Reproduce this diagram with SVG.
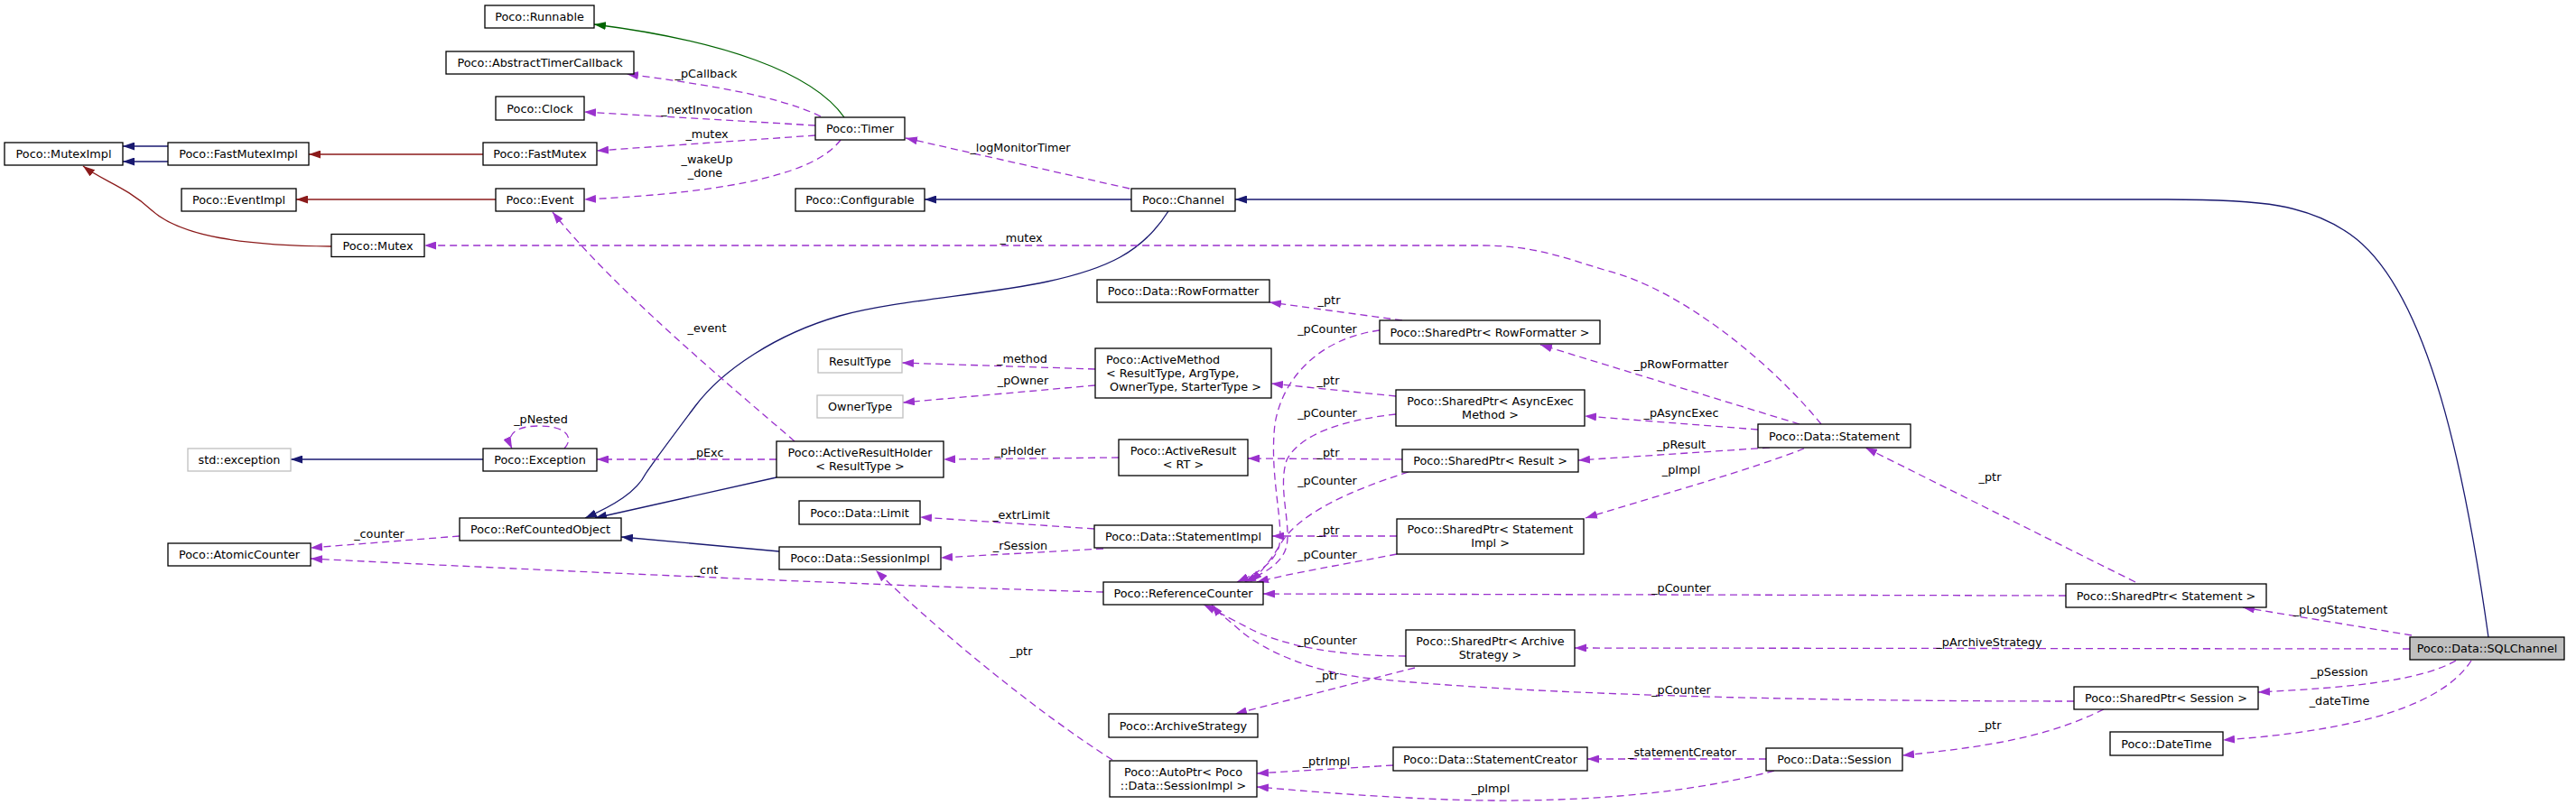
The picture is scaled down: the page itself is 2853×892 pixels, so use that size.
<svg xmlns="http://www.w3.org/2000/svg" width="2853" height="892" viewBox="0 0 2853 892">
<style>
text{font-family:'DejaVu Sans','Liberation Sans',sans-serif;font-size:12.8px;fill:#000;text-anchor:middle}
.n rect{fill:#fff;stroke:#000;stroke-width:1.3}
.g rect{fill:#fff;stroke:#bfbfbf;stroke-width:1.3}
.sel rect{fill:#bfbfbf;stroke:#000;stroke-width:1.3}
.l{text-anchor:start}
.e{fill:none;stroke-width:1.3}
.u{stroke:#9a32cd;stroke-dasharray:8,5;marker-end:url(#ap)}
.nv{stroke:#191970;marker-end:url(#an)}
.fr{stroke:#8b1a1a;marker-end:url(#af)}
.gr{stroke:#006400;marker-end:url(#ag)}
</style>
<defs>
<marker id="ap" markerUnits="userSpaceOnUse" markerWidth="13" markerHeight="9" refX="13" refY="4.5" orient="auto"><path d="M0,0 L13,4.5 L0,9 z" fill="#9a32cd"/></marker>
<marker id="an" markerUnits="userSpaceOnUse" markerWidth="13" markerHeight="9" refX="13" refY="4.5" orient="auto"><path d="M0,0 L13,4.5 L0,9 z" fill="#191970"/></marker>
<marker id="af" markerUnits="userSpaceOnUse" markerWidth="13" markerHeight="9" refX="13" refY="4.5" orient="auto"><path d="M0,0 L13,4.5 L0,9 z" fill="#8b1a1a"/></marker>
<marker id="ag" markerUnits="userSpaceOnUse" markerWidth="13" markerHeight="9" refX="13" refY="4.5" orient="auto"><path d="M0,0 L13,4.5 L0,9 z" fill="#006400"/></marker>
</defs>
<rect width="2853" height="892" fill="#fff"/>
<g id="connectors">
<path class="e gr" d="M935,130 C900,80 800,45 658,27"/>
<path class="e fr" d="M535,171 L342,171"/>
<path class="e nv" d="M186,162 L136,162"/>
<path class="e nv" d="M186,179 L136,179"/>
<path class="e fr" d="M549,221 L328,221"/>
<path class="e fr" d="M367,273 C270,272 200,262 168,233 C140,207 113,200 92,184"/>
<path class="e nv" d="M1253,221 L1024,221"/>
<path class="e nv" d="M2756,706 C2730,520 2690,330 2610,265 C2560,225 2500,221 2400,221 L1368,221"/>
<path class="e nv" d="M1294,234 C1265,280 1225,298 1160,312 C1090,327 990,333 930,350 C860,370 800,410 770,450 C740,490 725,510 715,525 C705,545 680,560 648,574"/>
<path class="e nv" d="M860,529 L659,574"/>
<path class="e nv" d="M863,611 L688,595"/>
<path class="e nv" d="M535,509 L322,509"/>
<path class="e u" d="M909,129 C860,105 770,92 694,82"/>
<path class="e u" d="M903,139 L647,124"/>
<path class="e u" d="M903,150 L661,167"/>
<path class="e u" d="M931,155 C905,190 820,213 647,221"/>
<path class="e u" d="M1251,209 L1003,153"/>
<path class="e u" d="M2017,470 C1960,400 1860,320 1780,300 C1730,285 1700,272 1640,272 L470,272"/>
<path class="e u" d="M880,489 C800,420 680,320 612,235"/>
<path class="e u" d="M625,497 C636,485 628,472 597,472 C570,472 560,482 567,497"/>
<path class="e u" d="M860,509 L661,509"/>
<path class="e u" d="M509,594 L344,607"/>
<path class="e u" d="M1222,656 C1000,650 600,632 344,619"/>
<path class="e u" d="M1553,355 L1406,335"/>
<path class="e u" d="M1213,409 L999,402"/>
<path class="e u" d="M1213,427 L1000,446"/>
<path class="e u" d="M1546,439 L1408,425"/>
<path class="e u" d="M1553,509 L1382,508"/>
<path class="e u" d="M1239,507 L1045,509"/>
<path class="e u" d="M1212,586 L1019,573"/>
<path class="e u" d="M1547,594 L1409,594"/>
<path class="e u" d="M1222,608 L1042,618"/>
<path class="e u" d="M1232,842 C1150,790 1040,700 970,632"/>
<path class="e u" d="M2365,645 L2066,496"/>
<path class="e u" d="M2671,704 L2484,673"/>
<path class="e u" d="M2669,719 L1744,718"/>
<path class="e u" d="M2720,732 C2680,755 2600,762 2501,767"/>
<path class="e u" d="M2737,732 C2700,790 2580,812 2462,820"/>
<path class="e u" d="M2330,786 C2280,810 2230,825 2107,837"/>
<path class="e u" d="M1956,841 L1758,841"/>
<path class="e u" d="M1965,854 C1850,885 1700,892 1560,884 C1480,880 1430,875 1392,872"/>
<path class="e u" d="M1543,848 L1392,857"/>
<path class="e u" d="M1567,740 L1368,791"/>
<path class="e u" d="M1993,470 L1706,382"/>
<path class="e u" d="M1947,476 L1755,461"/>
<path class="e u" d="M1960,496 L1748,510"/>
<path class="e u" d="M1998,497 C1940,520 1850,545 1756,574"/>
<path class="e u" d="M1528,366 C1460,375 1420,420 1412,470 C1405,530 1425,590 1415,610 C1405,630 1385,638 1370,645"/>
<path class="e u" d="M1546,459 C1490,465 1440,480 1425,510 C1415,540 1430,580 1425,605 C1420,625 1400,635 1378,645"/>
<path class="e u" d="M1560,523 C1490,545 1440,570 1420,600 C1405,625 1395,635 1385,645"/>
<path class="e u" d="M1547,614 C1490,625 1430,635 1392,645"/>
<path class="e u" d="M2288,660 L1399,658"/>
<path class="e u" d="M1557,727 C1480,727 1420,715 1385,697 C1360,684 1345,676 1333,670"/>
<path class="e u" d="M2297,777 C2000,777 1700,770 1520,752 C1450,745 1400,720 1375,700 C1362,688 1350,680 1342,670"/>
<text x="782" y="85.5">_pCallback</text>
<text x="783" y="125.5">_nextInvocation</text>
<text x="783" y="152.5">_mutex</text>
<text x="783" y="180.5">_wakeUp</text>
<text x="781" y="195.5">_done</text>
<text x="1130" y="167.5">_logMonitorTimer</text>
<text x="1131" y="267.5">_mutex</text>
<text x="783" y="367.5">_event</text>
<text x="599" y="468.5">_pNested</text>
<text x="783" y="505.5">_pExc</text>
<text x="420" y="595.5">_counter</text>
<text x="782" y="635.5">_cnt</text>
<text x="1132" y="401.5">_method</text>
<text x="1133" y="425.5">_pOwner</text>
<text x="1130" y="503.5">_pHolder</text>
<text x="1131" y="574.5">_extrLimit</text>
<text x="1130" y="608.5">_rSession</text>
<text x="1131" y="725.5">_ptr</text>
<text x="1472" y="336.5">_ptr</text>
<text x="1470" y="368.5">_pCounter</text>
<text x="1471" y="425.5">_ptr</text>
<text x="1470" y="461.5">_pCounter</text>
<text x="1471" y="505.5">_ptr</text>
<text x="1470" y="536.5">_pCounter</text>
<text x="1471" y="591.5">_ptr</text>
<text x="1470" y="618.5">_pCounter</text>
<text x="1470" y="713.5">_pCounter</text>
<text x="1470" y="752.5">_ptr</text>
<text x="1469" y="847.5">_ptrImpl</text>
<text x="1651" y="877.5">_pImpl</text>
<text x="1862" y="407.5">_pRowFormatter</text>
<text x="1862" y="461.5">_pAsyncExec</text>
<text x="1862" y="496.5">_pResult</text>
<text x="1862" y="524.5">_pImpl</text>
<text x="1862" y="655.5">_pCounter</text>
<text x="1862" y="768.5">_pCounter</text>
<text x="1863" y="837.5">_statementCreator</text>
<text x="2204" y="532.5">_ptr</text>
<text x="2203" y="715.5">_pArchiveStrategy</text>
<text x="2204" y="807.5">_ptr</text>
<text x="2592" y="679.5">_pLogStatement</text>
<text x="2591" y="748.5">_pSession</text>
<text x="2591" y="780.5">_dateTime</text>
</g>
<g id="n1" class="n"><rect x="537" y="6" width="121" height="25"/><text x="597.5" y="23">Poco::Runnable</text></g>
<g id="n2" class="n"><rect x="494" y="57" width="208" height="25"/><text x="598" y="74">Poco::AbstractTimerCallback</text></g>
<g id="n3" class="n"><rect x="549" y="107" width="98" height="26"/><text x="598" y="124.5">Poco::Clock</text></g>
<g id="n4" class="n"><rect x="903" y="130" width="99" height="25"/><text x="952.5" y="147">Poco::Timer</text></g>
<g id="n5" class="n"><rect x="5" y="158" width="131" height="25"/><text x="70.5" y="175">Poco::MutexImpl</text></g>
<g id="n6" class="n"><rect x="186" y="158" width="156" height="25"/><text x="264" y="175">Poco::FastMutexImpl</text></g>
<g id="n7" class="n"><rect x="535" y="158" width="126" height="25"/><text x="598" y="175">Poco::FastMutex</text></g>
<g id="n8" class="n"><rect x="201" y="209" width="127" height="25"/><text x="264.5" y="226">Poco::EventImpl</text></g>
<g id="n9" class="n"><rect x="549" y="209" width="98" height="25"/><text x="598" y="226">Poco::Event</text></g>
<g id="n10" class="n"><rect x="881" y="209" width="143" height="25"/><text x="952.5" y="226">Poco::Configurable</text></g>
<g id="n11" class="n"><rect x="1253" y="209" width="115" height="25"/><text x="1310.5" y="226">Poco::Channel</text></g>
<g id="n12" class="n"><rect x="367" y="259.5" width="103" height="25"/><text x="418.5" y="276.5">Poco::Mutex</text></g>
<g id="n13" class="n"><rect x="1215" y="310" width="191" height="25"/><text x="1310.5" y="327">Poco::Data::RowFormatter</text></g>
<g id="n14" class="n"><rect x="1528" y="355" width="244" height="26"/><text x="1650" y="372.5">Poco::SharedPtr&lt; RowFormatter &gt;</text></g>
<g id="n15" class="g"><rect x="906" y="387" width="93" height="26"/><text x="952.5" y="404.5">ResultType</text></g>
<g id="n16" class="n"><rect x="1213" y="386" width="195" height="55"/><text class="l" x="1225" y="402.5">Poco::ActiveMethod</text><text class="l" x="1225" y="417.5">&lt; ResultType, ArgType,</text><text class="l" x="1229" y="432.5">OwnerType, StarterType &gt;</text></g>
<g id="n17" class="g"><rect x="905" y="438" width="95" height="25"/><text x="952.5" y="455">OwnerType</text></g>
<g id="n18" class="n"><rect x="1546" y="432" width="209" height="40"/><text x="1650.5" y="448.5">Poco::SharedPtr&lt; AsyncExec</text><text x="1650.5" y="463.5">Method &gt;</text></g>
<g id="n19" class="n"><rect x="1947" y="470" width="169" height="26"/><text x="2031.5" y="487.5">Poco::Data::Statement</text></g>
<g id="n20" class="g"><rect x="208" y="497" width="114" height="25"/><text x="265" y="514">std::exception</text></g>
<g id="n21" class="n"><rect x="535" y="497" width="126" height="25"/><text x="598" y="514">Poco::Exception</text></g>
<g id="n22" class="n"><rect x="860" y="489" width="185" height="40"/><text x="952.5" y="505.5">Poco::ActiveResultHolder</text><text x="952.5" y="520.5">&lt; ResultType &gt;</text></g>
<g id="n23" class="n"><rect x="1239" y="487" width="143" height="40"/><text x="1310.5" y="503.5">Poco::ActiveResult</text><text x="1310.5" y="518.5">&lt; RT &gt;</text></g>
<g id="n24" class="n"><rect x="1553" y="498" width="195" height="25"/><text x="1650.5" y="515">Poco::SharedPtr&lt; Result &gt;</text></g>
<g id="n25" class="n"><rect x="885" y="555" width="134" height="26"/><text x="952" y="572.5">Poco::Data::Limit</text></g>
<g id="n26" class="n"><rect x="509" y="574" width="179" height="25"/><text x="598.5" y="591">Poco::RefCountedObject</text></g>
<g id="n27" class="n"><rect x="1212" y="582" width="197" height="25"/><text x="1310.5" y="599">Poco::Data::StatementImpl</text></g>
<g id="n28" class="n"><rect x="1547" y="575" width="207" height="39"/><text x="1650.5" y="591">Poco::SharedPtr&lt; Statement</text><text x="1650.5" y="606">Impl &gt;</text></g>
<g id="n29" class="n"><rect x="186" y="602" width="158" height="25"/><text x="265" y="619">Poco::AtomicCounter</text></g>
<g id="n30" class="n"><rect x="863" y="606" width="179" height="25"/><text x="952.5" y="623">Poco::Data::SessionImpl</text></g>
<g id="n31" class="n"><rect x="1222" y="645" width="177" height="25"/><text x="1310.5" y="662">Poco::ReferenceCounter</text></g>
<g id="n32" class="n"><rect x="2288" y="647" width="222" height="26"/><text x="2399" y="664.5">Poco::SharedPtr&lt; Statement &gt;</text></g>
<g id="n33" class="n"><rect x="1557" y="698" width="187" height="40"/><text x="1650.5" y="714.5">Poco::SharedPtr&lt; Archive</text><text x="1650.5" y="729.5">Strategy &gt;</text></g>
<g id="n34" class="sel"><rect x="2669" y="706" width="171" height="25"/><text x="2754.5" y="723">Poco::Data::SQLChannel</text></g>
<g id="n35" class="n"><rect x="2297" y="761" width="204" height="25"/><text x="2399" y="778">Poco::SharedPtr&lt; Session &gt;</text></g>
<g id="n36" class="n"><rect x="1228" y="791" width="165" height="26"/><text x="1310.5" y="808.5">Poco::ArchiveStrategy</text></g>
<g id="n37" class="n"><rect x="2337" y="811" width="125" height="26"/><text x="2399.5" y="828.5">Poco::DateTime</text></g>
<g id="n38" class="n"><rect x="1543" y="828" width="215" height="26"/><text x="1650.5" y="845.5">Poco::Data::StatementCreator</text></g>
<g id="n39" class="n"><rect x="1956" y="829" width="151" height="25"/><text x="2031.5" y="846">Poco::Data::Session</text></g>
<g id="n40" class="n"><rect x="1229" y="843" width="163" height="40"/><text x="1310.5" y="859.5">Poco::AutoPtr&lt; Poco</text><text x="1310.5" y="874.5">::Data::SessionImpl &gt;</text></g>
</svg>
